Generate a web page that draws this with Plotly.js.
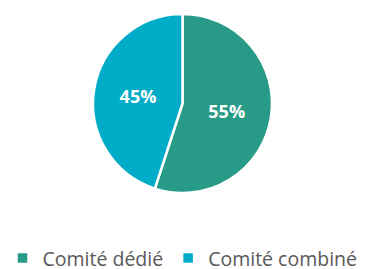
<!DOCTYPE html>
<html><head><meta charset="utf-8">
<script src="https://cdn.plot.ly/plotly-3.0.1.min.js"></script>
<style>html,body{margin:0;padding:0;background:#fff}#chart{width:368px;height:269px}</style>
</head><body><div id="chart"></div>
<script>
const categories = ["Comité dédié", "Comité combiné"];
const values = [55, 45];
const colors = ["#279B87", "#00ACC7"];

const trace = {
  type: "pie",
  labels: categories,
  values: values,
  sort: false,
  direction: "clockwise",
  rotation: 0,
  marker: {colors: colors, line: {color: "#ffffff", width: 2.5}},
  textinfo: "percent",
  textposition: "inside",
  insidetextfont: {color: "#ffffff", size: 18, family: "Open Sans, sans-serif", weight: "bold"},
  hoverinfo: "none"
};
const layout = {
  width: 368, height: 269,
  margin: {l: 0, r: 3, t: 14, b: 76, autoexpand: false},
  paper_bgcolor: "#ffffff",
  showlegend: true,
  legend: {orientation: "h", x: 0.5, xanchor: "center", y: -0.365, yanchor: "middle",
    font: {size: 19.5, color: "#595959", family: "Open Sans, sans-serif"}, itemwidth: 30, traceorder: "normal"}
};
Plotly.newPlot("chart", [trace], layout, {staticPlot: true});
</script></body></html>
